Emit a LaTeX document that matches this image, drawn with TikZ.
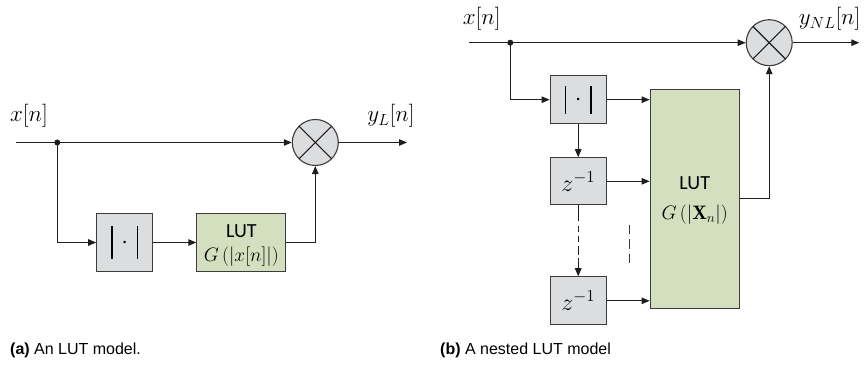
\RequirePackage{fix-cm}
\documentclass[tikz,border=0pt]{standalone}
\usepackage{amsmath}
\usepackage{fontspec}
\newfontfamily\calib{Carlito}
\newfontfamily\capfont{Liberation Sans}
\usetikzlibrary{arrows.meta,calc}
\definecolor{boxgray}{RGB}{220,221,223}
\definecolor{lutgreen}{RGB}{211,223,190}
\definecolor{edge}{RGB}{60,60,60}
\definecolor{wire}{RGB}{30,30,30}
\newcommand{\absbars}[1]{\rule[-#1pt]{1.6pt}{\dimexpr 12pt+2\dimexpr #1pt\relax\relax}\hspace{8.6pt}{\fontsize{24}{24}\selectfont$\cdot$}\hspace{8.6pt}\rule[-#1pt]{1.6pt}{\dimexpr 12pt+2\dimexpr #1pt\relax\relax}}
\tikzset{
  blk/.style={draw=edge, line width=1.1pt, fill=boxgray, minimum width=56pt, inner sep=0pt},
  lutbox/.style={draw=edge, line width=1.1pt, fill=lutgreen, minimum width=89pt, inner sep=0pt},
  mult/.style={circle, draw=edge, line width=1.1pt, fill=boxgray, minimum size=46pt, inner sep=0pt},
  wr/.style={draw=wire, line width=1.1pt},
  arr/.style={wr, -{Triangle[length=8pt,width=6.5pt]}},
  junct/.style={circle, fill=wire, minimum size=6pt, inner sep=0pt},
  sig/.style={font=\fontsize{23}{25}\selectfont, inner sep=0pt},
  inbox/.style={font=\fontsize{19.5}{21}\selectfont, inner sep=0pt},
  zt/.style={font=\fontsize{24}{26}\selectfont, inner sep=0pt},
  luttxt/.style={font=\calib\fontsize{20}{22}\selectfont, inner sep=0pt},
  captxt/.style={font=\capfont\fontsize{16}{18}\selectfont, anchor=west, inner sep=0pt}
}
\begin{document}
\begin{tikzpicture}[x=1pt,y=-1pt]
\useasboundingbox (0,0) rectangle (867,371);
% ---------------- (a) ----------------
\coordinate (in1) at (16,142.5);
\node[junct] (d1) at (57.3,142.5) {};
\node[mult] (m1) at (315.3,142.5) {};
\coordinate (out1) at (407,142.5);
\node[blk, minimum height=58pt] (abs1) at (124.7,242.5) {};
\node[inner sep=0pt] (abs1t) at (124.7,242.5) {\absbars{10}};
\node[lutbox, minimum height=58pt] (lut1) at (241.3,242.5) {};
\node[luttxt] (lut1a) at (241.3,231) {LUT};
\node[inbox] (lut1b) at (241.3,256.5) {$G\,(|x[n]|)$};
\node[sig] (x1) at (29,116) {$x[n]$};
\node[sig] (y1) at (391,116) {$y_L[n]$};
\draw[wr] ($(m1.center)+(-16.3,-16.3)$) -- ($(m1.center)+(16.3,16.3)$);
\draw[wr] ($(m1.center)+(-16.3,16.3)$) -- ($(m1.center)+(16.3,-16.3)$);
\draw[arr] (in1) -- (m1.west);
\draw[arr] (d1.center) |- (abs1.west);
\draw[arr] (abs1.east) -- (lut1.west);
\draw[arr] (lut1.east) -| (m1.south);
\draw[arr] (m1.east) -- (out1);
% ---------------- (b) ----------------
\coordinate (in2) at (469.3,42.7);
\node[junct] (d2) at (510.3,42.7) {};
\node[mult] (m2) at (769.2,42.7) {};
\coordinate (out2) at (859.3,42.7);
\node[blk, minimum height=48pt] (abs2) at (578.2,99.7) {};
\node[inner sep=0pt] (abs2t) at (578.2,99.7) {\absbars{8}};
\node[blk, minimum height=47pt] (z1) at (578.2,181.3) {};
\node[zt] (z1t) at (578.2,181.3) {$z^{-1}$};
\node[blk, minimum height=48pt] (z2) at (578.2,300.8) {};
\node[zt] (z2t) at (578.2,300.8) {$z^{-1}$};
\node[lutbox, minimum height=219pt] (lut2) at (694.7,198.8) {};
\node[luttxt] (lut2a) at (694.7,183) {LUT};
\node[inbox] (lut2b) at (694.7,215) {$G\,(|\mathbf{X}_n|)$};
\node[sig] (x2) at (481.7,19) {$x[n]$};
\node[sig] (y2) at (829.7,19) {$y_{NL}[n]$};
\draw[wr] ($(m2.center)+(-16.3,-16.3)$) -- ($(m2.center)+(16.3,16.3)$);
\draw[wr] ($(m2.center)+(-16.3,16.3)$) -- ($(m2.center)+(16.3,-16.3)$);
\draw[arr] (in2) -- (m2.west);
\draw[arr] (m2.east) -- (out2);
\draw[arr] (d2.center) |- (abs2.west);
\draw[arr] (abs2.east) -- (abs2.east -| lut2.west);
\draw[arr] (abs2.south) -- (z1.north);
\draw[arr] (z1.east) -- (z1.east -| lut2.west);
\draw[arr, dash pattern=on 16pt off 5pt on 6pt off 4pt on 6pt off 4pt on 9pt off 3pt on 40pt off 0pt] (z1.south) -- (z2.north);
\draw[arr] (z2.east) -- (z2.east -| lut2.west);
\draw[arr] (lut2.east) -| (m2.south);
\coordinate (dsh1) at (629.5,225);
\coordinate (dsh2) at (629.5,264);
\draw[draw=edge, line width=1.1pt, dash pattern=on 9.5pt off 5pt] (dsh1) -- (dsh2);
% ---------------- captions ----------------
\node[captxt] (capa) at (10,350) {\textbf{(a)} An LUT model.};
\node[captxt] (capb) at (440,350) {\textbf{(b)} A nested LUT model};
\end{tikzpicture}
\end{document}
